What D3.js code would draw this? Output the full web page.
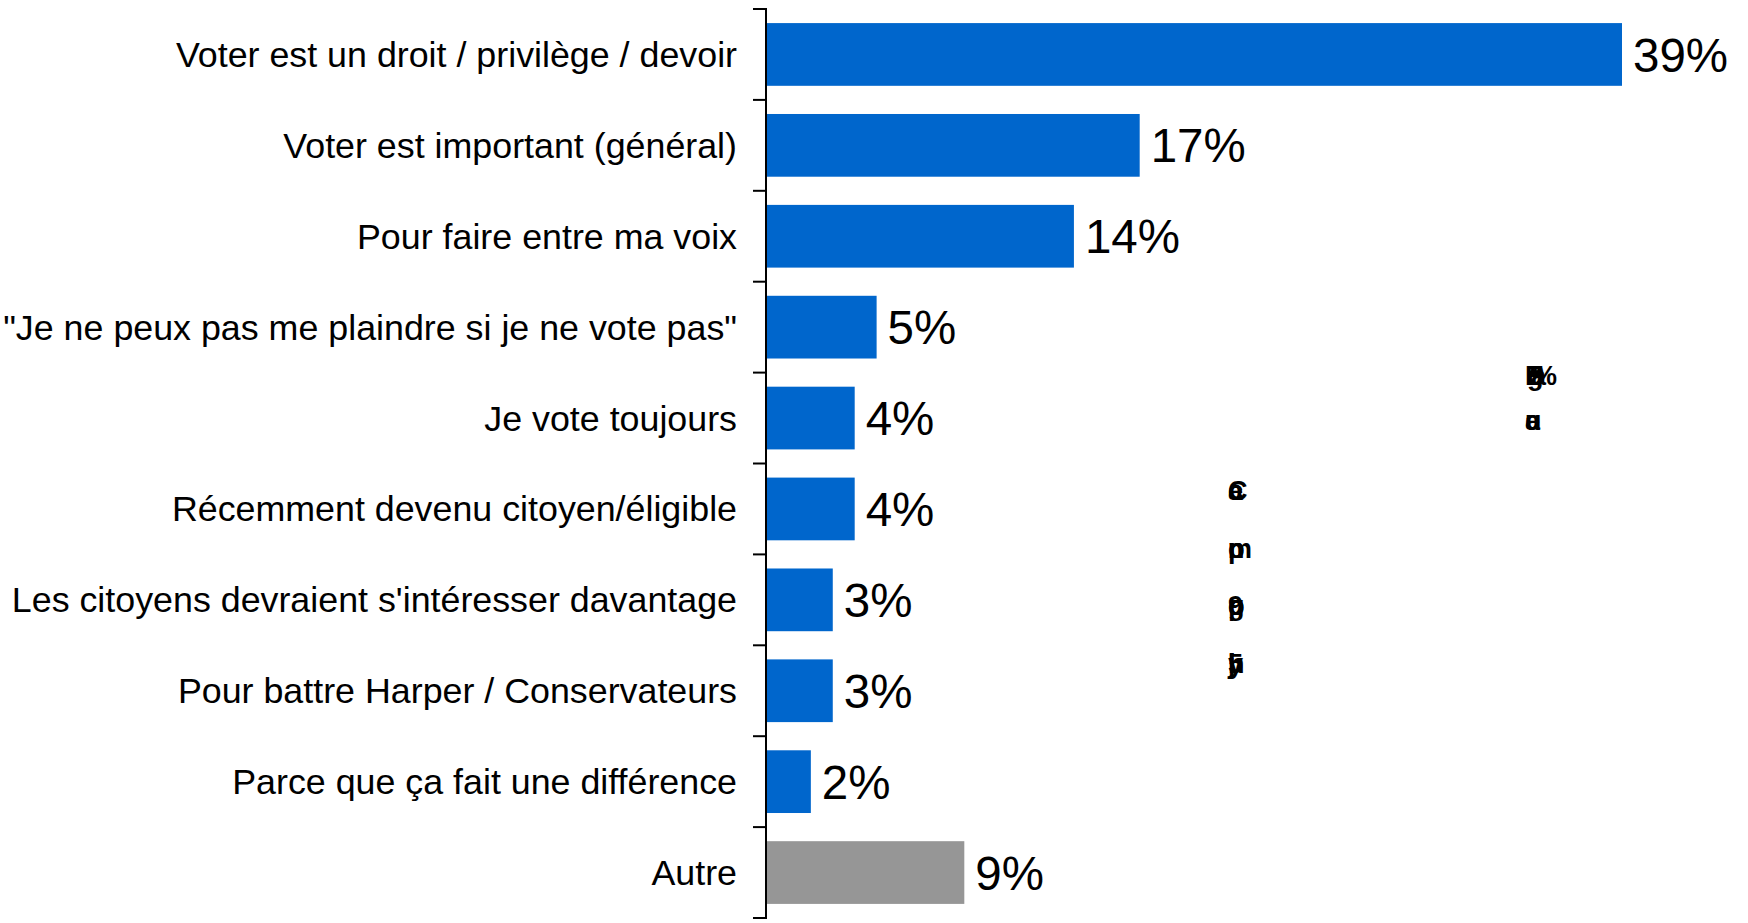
<!DOCTYPE html>
<html>
<head>
<meta charset="utf-8">
<script src="https://cdn.jsdelivr.net/npm/d3@7"></script>
<style>
  html, body { margin: 0; padding: 0; background: #fff; }
  svg { display: block; }
  text { font-family: "Liberation Sans", Arial, sans-serif; }
</style>
</head>
<body>
<svg id="chart" width="1748" height="923"></svg>
<script>
const categories = [
  "Voter est un droit / privilège / devoir",
  "Voter est important (général)",
  "Pour faire entre ma voix",
  "\"Je ne peux pas me plaindre si je ne vote pas\"",
  "Je vote toujours",
  "Récemment devenu citoyen/éligible",
  "Les citoyens devraient s'intéresser davantage",
  "Pour battre Harper / Conservateurs",
  "Parce que ça fait une différence",
  "Autre"
];
const values = [39, 17, 14, 5, 4, 4, 3, 3, 2, 9];
const isOther = [false, false, false, false, false, false, false, false, false, true];
const valueLabels = ["39%", "17%", "14%", "5%", "4%", "4%", "3%", "3%", "2%", "9%"];
// stray overlapping glyph clusters visible in the original picture
const ghostGlyphs = [
  ["B", "g", "5", "a", "%"],
  ["u", "a", "e"],
  ["a", "c", "e", "C"],
  ["n", "p", "o", "m"],
  ["g", "p", "o", "9"],
  ["j", "h", "y", "5"]
];

const svg = d3.select("#chart");
svg.append("rect").attr("width", 1748).attr("height", 923).attr("fill", "#fff");

const axisX = 766;
const x = d3.scaleLinear().domain([0, 39]).range([axisX + 1, 1622]);
const y = d3.scaleBand().domain(categories).range([9, 918]).paddingInner(0.31).paddingOuter(0.155);
const step = y.step();
const outer = y.paddingOuter() * step;

// bars
svg.append("g").selectAll("rect")
  .data(categories)
  .join("rect")
  .attr("x", x(0))
  .attr("y", d => y(d))
  .attr("width", (d, i) => x(values[i]) - x(0))
  .attr("height", y.bandwidth())
  .attr("fill", (d, i) => isOther[i] ? "#969696" : "#0066CC");

// axis line and boundary ticks
const axis = svg.append("g");
const bounds = categories.map(c => y(c) - outer).concat([y(categories[categories.length - 1]) - outer + step]);
axis.append("line")
  .attr("x1", axisX).attr("x2", axisX)
  .attr("y1", bounds[0]).attr("y2", bounds[bounds.length - 1])
  .attr("stroke", "#000").attr("stroke-width", 2);
axis.selectAll("line.tick")
  .data(bounds)
  .join("line")
  .attr("class", "tick")
  .attr("x1", axisX - 13).attr("x2", axisX + 1)
  .attr("y1", d => d).attr("y2", d => d)
  .attr("stroke", "#000").attr("stroke-width", 2);

// category labels
svg.append("g").selectAll("text")
  .data(categories)
  .join("text")
  .attr("x", 737)
  .attr("y", d => y(d) + y.bandwidth() / 2)
  .attr("dy", "0.35em")
  .attr("text-anchor", "end")
  .attr("font-size", 35.8)
  .attr("fill", "#000")
  .text(d => d);

// value labels
svg.append("g").selectAll("text")
  .data(categories)
  .join("text")
  .attr("x", (d, i) => x(values[i]) + 11)
  .attr("y", d => y(d) + y.bandwidth() / 2)
  .attr("dy", "0.36em")
  .attr("font-size", 47.5)
  .attr("fill", "#000")
  .text((d, i) => valueLabels[i]);

// stray glyphs, stacked on one another as in the original
const ghostPos = [[1525, 385], [1525, 430], [1228, 500], [1228, 558], [1228, 615], [1228, 673]];
const ghost = svg.append("g").attr("fill", "#000").attr("font-size", 27).attr("font-weight", "bold");
ghostGlyphs.forEach((chars, k) => {
  chars.forEach((c, j) => ghost.append("text")
    .attr("x", ghostPos[k][0] + (k === 0 ? j * 2 : 0))
    .attr("y", ghostPos[k][1])
    .text(c));
});
</script>
</body>
</html>
